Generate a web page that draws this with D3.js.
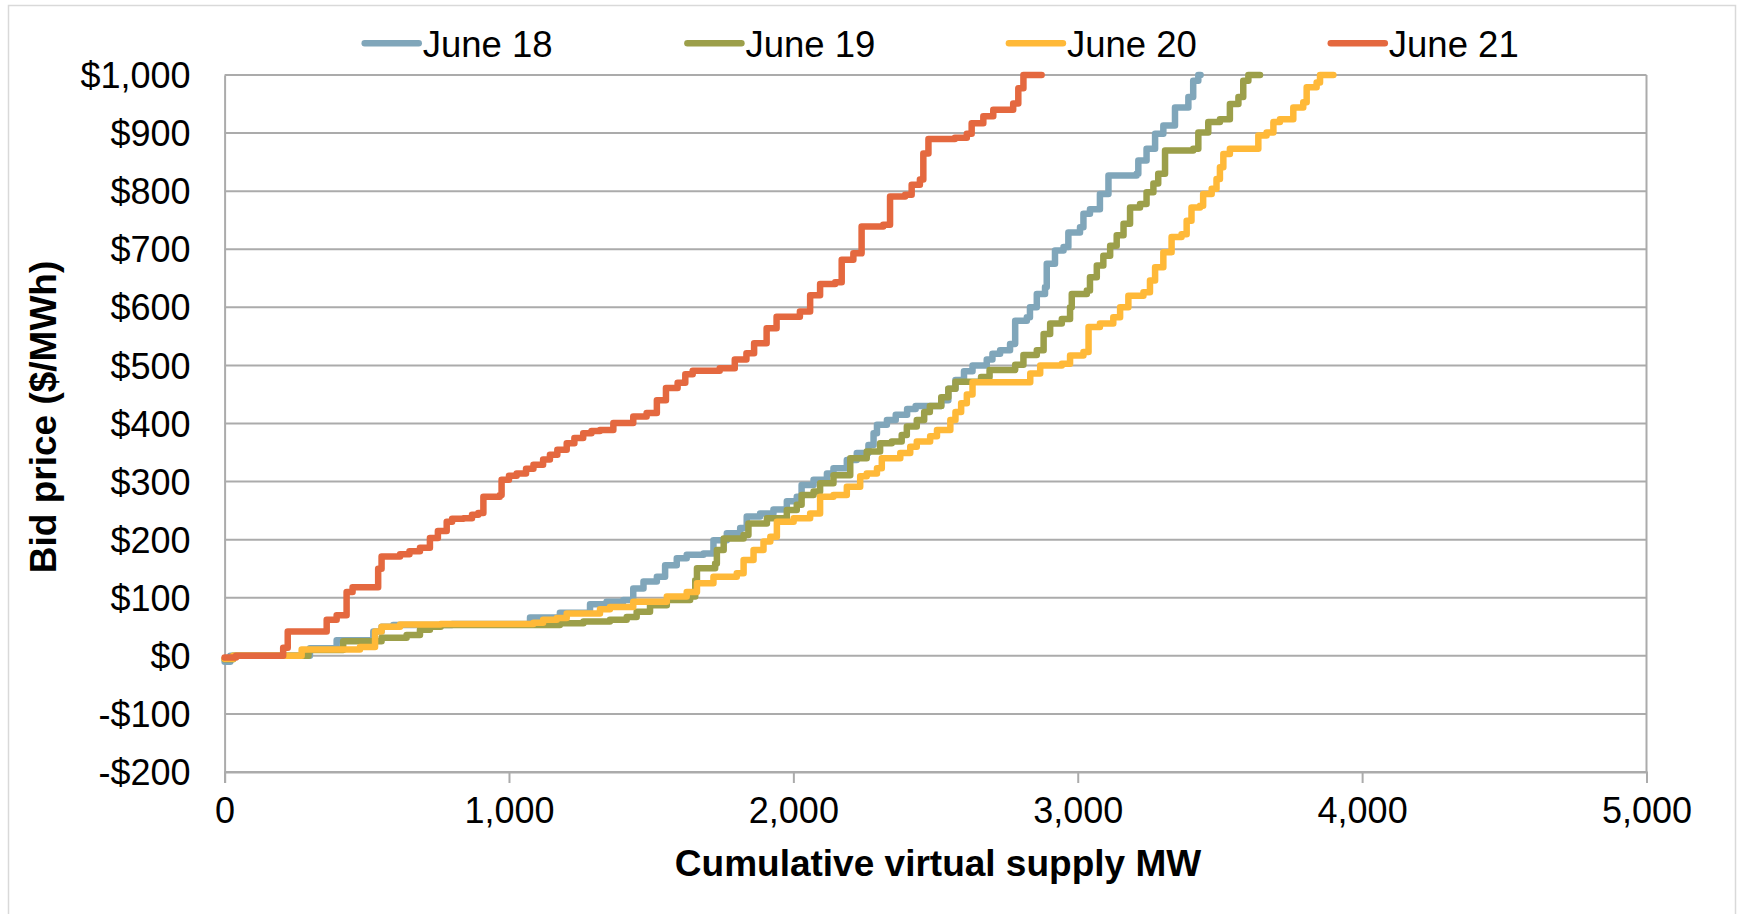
<!DOCTYPE html>
<html>
<head>
<meta charset="utf-8">
<script src="https://cdn.jsdelivr.net/npm/d3@7"></script>
<style>
  html, body { margin: 0; padding: 0; background: #fff; }
  svg { display: block; font-family: "Liberation Sans", Arial, sans-serif; }
</style>
</head>
<body>
<svg id="chart" width="1737" height="914"></svg>
<script>
// ---- Data ----
const seriesNames = ["June 18", "June 19", "June 20", "June 21"];
const xTicks = [0, 1000, 2000, 3000, 4000, 5000];
const yTicks = [-200, -100, 0, 100, 200, 300, 400, 500, 600, 700, 800, 900, 1000];

const june18MW = [0,20,300,394,523,552,593,800,1074,1179,1285,1343,1402,1437,1473,1520,1549,1590,1625,1684,1719,1766,1813,1836,1883,1930,1977,2012,2029,2071,2118,2141,2188,2223,2264,2282,2294,2329,2360,2400,2430,2520,2545,2570,2600,2630,2680,2700,2727,2762,2780,2821,2832,2856,2885,2891,2920,2950,2967,3008,3020,3043,3078,3108,3207,3213,3242,3272,3301,3342,3389,3406,3424,3432];
const june18Price = [-10,0,13,27,42,50,53,55,66,74,89,93,96,116,128,136,156,168,174,176,199,211,220,240,245,252,266,274,294,303,314,323,337,349,363,383,398,406,415,425,430,440,460,475,490,500,510,520,526,537,577,583,600,623,635,675,698,704,729,738,761,769,795,827,830,853,873,899,913,944,962,990,1000,1000];

const june19MW = [0,30,295,417,552,640,687,722,760,1179,1262,1355,1414,1449,1496,1555,1637,1655,1661,1725,1731,1755,1825,1842,1907,1977,2012,2029,2071,2094,2141,2200,2258,2305,2346,2381,2399,2434,2460,2480,2520,2545,2570,2660,2690,2780,2809,2856,2880,2903,2944,2973,2979,3032,3043,3067,3090,3114,3137,3161,3184,3219,3242,3266,3283,3307,3406,3424,3459,3500,3535,3565,3582,3600,3641];
const june19Price = [-6,0,10,25,31,36,45,50,53,56,59,62,67,76,87,96,102,130,151,159,182,202,208,228,237,251,260,277,283,297,311,340,352,366,369,380,395,406,420,430,445,460,472,480,492,501,518,526,554,572,580,600,623,629,652,672,689,706,724,744,772,778,798,813,830,870,873,901,919,924,950,962,990,1000,1000];

const june20MW = [0,30,271,476,529,552,617,760,1086,1120,1168,1203,1320,1355,1437,1555,1625,1661,1719,1801,1825,1860,1895,1919,1942,2001,2059,2094,2141,2188,2235,2258,2294,2311,2376,2411,2434,2481,2505,2552,2570,2590,2610,2630,2815,2833,2868,2944,2973,3020,3038,3078,3125,3149,3178,3231,3254,3272,3301,3330,3365,3383,3400,3430,3441,3471,3488,3500,3512,3535,3629,3635,3664,3688,3711,3758,3793,3805,3840,3852,3899];
const june20Price = [-5,0,11,15,42,50,54,55,57,62,65,73,80,84,93,102,110,125,136,142,165,182,197,205,231,237,245,274,277,291,309,314,323,340,349,360,369,378,389,406,420,435,450,471,471,486,500,503,517,523,566,572,583,600,620,626,646,669,695,721,726,749,772,775,795,804,821,841,864,873,873,896,901,919,924,944,953,979,987,1000,1000];

const june21MW = [0,40,206,222,359,394,429,450,540,552,617,650,687,722,750,781,800,840,870,892,910,968,974,1000,1027,1060,1086,1120,1144,1170,1203,1230,1261,1290,1320,1367,1437,1484,1520,1552,1593,1620,1646,1741,1794,1835,1862,1906,1941,2023,2059,2094,2147,2170,2211,2240,2316,2340,2393,2416,2445,2457,2475,2568,2610,2627,2668,2703,2773,2791,2809,2873];
const june21Price = [-3,0,14,42,62,70,110,118,150,171,175,180,186,203,215,231,236,237,243,246,274,277,303,310,314,322,329,338,346,355,366,375,383,387,389,401,412,418,440,461,470,485,491,495,510,521,538,564,584,593,621,640,643,682,693,739,742,791,794,811,820,865,890,892,899,917,929,940,951,977,1000,1000];

const seriesMW = [june18MW, june19MW, june20MW, june21MW];
const seriesPrice = [june18Price, june19Price, june20Price, june21Price];
const colors = ["#80A6BA", "#9C9F4A", "#FFB938", "#E4683F"];

// ---- Layout ----
const svg = d3.select("#chart");
const plot = { left: 224.6, right: 1646.5, top: 75, bottom: 772 };

const x = d3.scaleLinear().domain([0, 5000]).range([plot.left, plot.right]);
const y = d3.scaleLinear().domain([-200, 1000]).range([plot.bottom, plot.top]);

// outer border
svg.append("rect")
  .attr("x", 8.5).attr("y", 5.5).attr("width", 1727).attr("height", 930)
  .attr("fill", "none").attr("stroke", "#d9d9d9").attr("stroke-width", 1.5);

const gridColor = "#ababab";

// horizontal gridlines
svg.append("g").selectAll("line").data(yTicks).join("line")
  .attr("x1", plot.left).attr("x2", plot.right)
  .attr("y1", d => y(d)).attr("y2", d => y(d))
  .attr("stroke", gridColor).attr("stroke-width", 2);

// right border of plot
svg.append("line")
  .attr("x1", plot.right).attr("x2", plot.right)
  .attr("y1", plot.top).attr("y2", plot.bottom)
  .attr("stroke", gridColor).attr("stroke-width", 2);

// x axis
const xAxis = d3.axisBottom(x).tickValues(xTicks).tickSize(11).tickPadding(14)
  .tickFormat(d3.format(","));
const gx = svg.append("g").attr("transform", `translate(0,${plot.bottom})`).call(xAxis);
gx.select(".domain").attr("stroke", gridColor).attr("stroke-width", 2);
gx.selectAll(".tick line").attr("stroke", gridColor).attr("stroke-width", 2);
gx.selectAll(".tick text").attr("font-size", 36).attr("fill", "#000")
  .attr("font-family", "Liberation Sans, Arial, sans-serif")
  .attr("dy", "0.71em");

// y axis
const yFmt = d => (d < 0 ? "-$" : "$") + d3.format(",")(Math.abs(d));
const yAxis = d3.axisLeft(y).tickValues(yTicks).tickSize(0).tickPadding(34)
  .tickFormat(yFmt);
const gy = svg.append("g").attr("transform", `translate(${plot.left},0)`).call(yAxis);
gy.select(".domain").attr("stroke", gridColor).attr("stroke-width", 2);
gy.selectAll(".tick text").attr("font-size", 36).attr("fill", "#000")
  .attr("font-family", "Liberation Sans, Arial, sans-serif")
  .attr("dy", "0.35em");

// series lines
const line = d3.line()
  .x(d => x(d[0])).y(d => y(d[1]))
  .curve(d3.curveStepAfter);

seriesNames.forEach((name, i) => {
  const pts = seriesMW[i].map((v, j) => [v, seriesPrice[i][j]]);
  svg.append("path")
    .datum(pts)
    .attr("d", line)
    .attr("fill", "none")
    .attr("stroke", colors[i])
    .attr("stroke-width", 6.5)
    .attr("stroke-linejoin", "round")
    .attr("stroke-linecap", "round");
});

// legend
const legendX = [364.7, 687.4, 1008.9, 1330.8];
const legend = svg.append("g");
seriesNames.forEach((name, i) => {
  const g = legend.append("g").attr("transform", `translate(${legendX[i]},43.3)`);
  g.append("line").attr("x1", 0).attr("x2", 54).attr("y1", 0).attr("y2", 0)
    .attr("stroke", colors[i]).attr("stroke-width", 6.5).attr("stroke-linecap", "round");
  g.append("text").attr("x", 58).attr("y", 13.2)
    .attr("font-size", 36.5).attr("fill", "#000").text(name);
});

// axis titles
svg.append("text")
  .attr("x", 938).attr("y", 876)
  .attr("text-anchor", "middle").attr("font-size", 37).attr("font-weight", "bold")
  .text("Cumulative virtual supply MW");

svg.append("text")
  .attr("transform", "translate(56,417) rotate(-90)")
  .attr("text-anchor", "middle").attr("font-size", 37).attr("font-weight", "bold")
  .text("Bid price ($/MWh)");
</script>
</body>
</html>
